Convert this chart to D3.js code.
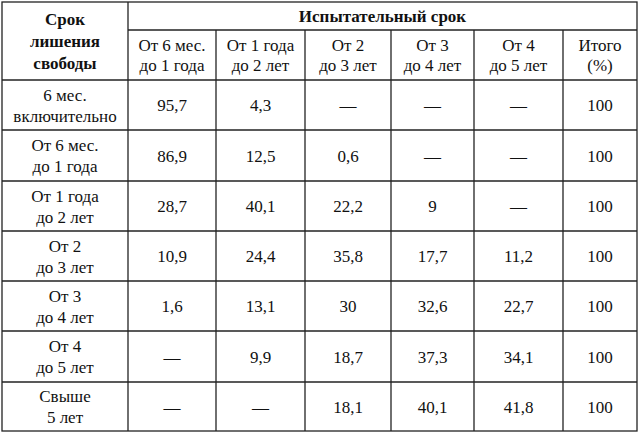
<!DOCTYPE html>
<html><head><meta charset="utf-8">
<script src="https://cdn.jsdelivr.net/npm/d3@7"></script>
<style>body{margin:0;background:#fff} text{font-family:"Liberation Serif","DejaVu Serif",serif}</style></head>
<body><svg id="c" width="639" height="433"></svg>
<script>
const rowLabels=[["6 мес.","включительно"],["От 6 мес.","до 1 года"],["От 1 года","до 2 лет"],["От 2","до 3 лет"],["От 3","до 4 лет"],["От 4","до 5 лет"],["Свыше","5 лет"]];
const colLabels=[["От 6 мес.","до 1 года"],["От 1 года","до 2 лет"],["От 2","до 3 лет"],["От 3","до 4 лет"],["От 4","до 5 лет"],["Итого","(%)"]];
const values=[
["95,7","4,3","—","—","—","100"],
["86,9","12,5","0,6","—","—","100"],
["28,7","40,1","22,2","9","—","100"],
["10,9","24,4","35,8","17,7","11,2","100"],
["1,6","13,1","30","32,6","22,7","100"],
["—","9,9","18,7","37,3","34,1","100"],
["—","—","18,1","40,1","41,8","100"]];
const headMain=["Срок","лишения","свободы"], headGroup="Испытательный срок";
const svg=d3.select("#c");
const xs=[2,128,216,305,391,474,563,637], ys=[2,30,80,130,181,231,281,331,382,431];
const g=svg.append("g").attr("stroke","#222").attr("stroke-width",1.3);
g.append("rect").attr("x",xs[0]).attr("y",ys[0]).attr("width",xs[7]-xs[0]).attr("height",ys[9]-ys[0]).attr("fill","none");
g.append("line").attr("x1",xs[1]).attr("x2",xs[7]).attr("y1",ys[1]).attr("y2",ys[1]);
ys.slice(2,9).forEach(y=>g.append("line").attr("x1",xs[0]).attr("x2",xs[7]).attr("y1",y).attr("y2",y));
g.append("line").attr("x1",xs[1]).attr("x2",xs[1]).attr("y1",ys[0]).attr("y2",ys[9]);
xs.slice(2,7).forEach(x=>g.append("line").attr("x1",x).attr("x2",x).attr("y1",ys[1]).attr("y2",ys[9]));
function txt(lines,cx,cy,bold,lh){
  const t=svg.append("text").attr("font-size",17).attr("fill","#111")
   .attr("text-anchor","middle").attr("font-weight",bold?"bold":"normal");
  const n=lines.length;
  lines.forEach((s,i)=>t.append("tspan").attr("x",cx).attr("y",cy+(i-(n-1)/2)*lh+6).text(s));
}
txt(headMain,(xs[0]+xs[1])/2,(ys[0]+ys[2])/2,true,22);
txt([headGroup],(xs[1]+xs[7])/2,(ys[0]+ys[1])/2,true,20);
colLabels.forEach((c,j)=>txt(c,(xs[j+1]+xs[j+2])/2,(ys[1]+ys[2])/2,false,20));
rowLabels.forEach((r,i)=>{
  txt(r,(xs[0]+xs[1])/2,(ys[i+2]+ys[i+3])/2,false,21);
  values[i].forEach((v,j)=>txt([v],(xs[j+1]+xs[j+2])/2,(ys[i+2]+ys[i+3])/2,false,20));
});
</script></body></html>
